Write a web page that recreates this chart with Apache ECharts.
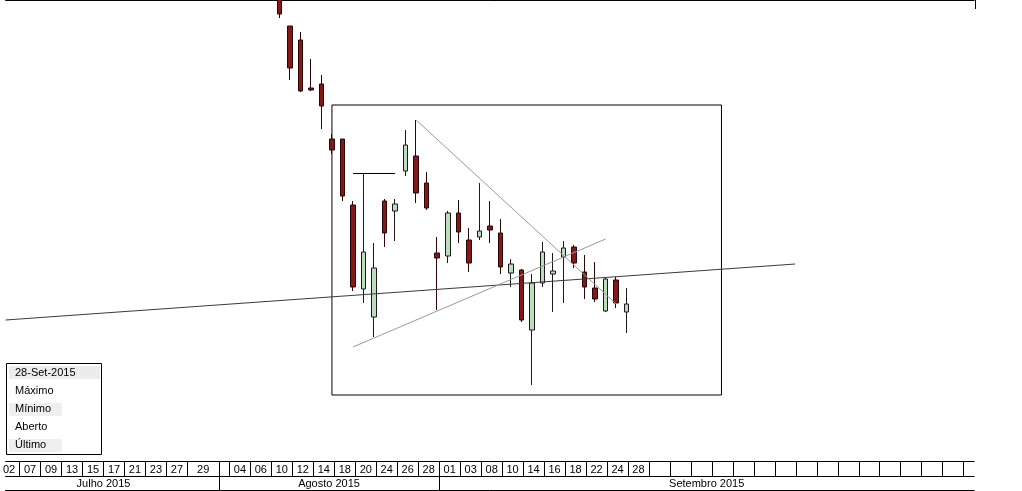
<!DOCTYPE html>
<html>
<head>
<meta charset="utf-8">
<script src="https://cdn.jsdelivr.net/npm/echarts@6/dist/echarts.min.js"></script>
<style>
html,body{margin:0;padding:0;background:#fff;}
#chart{width:1022px;height:491px;}
</style>
</head>
<body>
<div id="chart"></div>
<script>
// ---- axis categories (trading days, incl. empty future days shown on the axis)
const axisDates = [
 '2015-07-01','2015-07-02','2015-07-03','2015-07-07','2015-07-08','2015-07-09','2015-07-10','2015-07-13','2015-07-14','2015-07-15','2015-07-16','2015-07-17','2015-07-20','2015-07-21','2015-07-22','2015-07-23','2015-07-24','2015-07-27','2015-07-28','2015-07-29','2015-07-30','2015-07-31',
 '2015-08-03','2015-08-04','2015-08-05','2015-08-06','2015-08-07','2015-08-10','2015-08-11','2015-08-12','2015-08-13','2015-08-14','2015-08-17','2015-08-18','2015-08-19','2015-08-20','2015-08-21','2015-08-24','2015-08-25','2015-08-26','2015-08-27','2015-08-28','2015-08-31',
 '2015-09-01','2015-09-02','2015-09-03','2015-09-04','2015-09-08','2015-09-09','2015-09-10','2015-09-11','2015-09-14','2015-09-15','2015-09-16','2015-09-17','2015-09-18','2015-09-21','2015-09-22','2015-09-23','2015-09-24','2015-09-25','2015-09-28',
 '2015-09-29','2015-09-30','2015-10-01','2015-10-02','2015-10-05','2015-10-06','2015-10-07','2015-10-08','2015-10-09','2015-10-13','2015-10-14','2015-10-15','2015-10-16','2015-10-19','2015-10-20','2015-10-21','2015-10-22','2015-10-23','2015-10-26','2015-10-27','2015-10-28','2015-10-29','2015-10-30','2015-11-03','2015-11-04','2015-11-05','2015-11-06','2015-11-09','2015-11-10','2015-11-11','2015-11-12','2015-11-13','2015-11-16'
];
// first visible axis position (fraction of a day into the axis) at the left edge
const axisStart = 1.6635;

// ---- candles visible in the picture
const candleDates = ['2015-08-11','2015-08-12','2015-08-13','2015-08-14','2015-08-17','2015-08-18','2015-08-19','2015-08-20','2015-08-21','2015-08-24','2015-08-25','2015-08-26','2015-08-27','2015-08-28','2015-08-31',
 '2015-09-01','2015-09-02','2015-09-03','2015-09-04','2015-09-08','2015-09-09','2015-09-10','2015-09-11','2015-09-14','2015-09-15','2015-09-16','2015-09-17','2015-09-18','2015-09-21','2015-09-22','2015-09-23','2015-09-24','2015-09-25','2015-09-28'];
const openVals  = [14.80,14.35,14.21,13.73,13.77,13.22,13.22,12.56,11.72,11.44,12.60,12.50,12.90,13.05,12.78,12.08,12.05,12.48,12.21,12.24,12.35,12.28,11.88,11.91,11.31,11.78,11.87,12.04,12.14,11.89,11.73,11.50,11.81,11.49];
const closeVals = [14.47,13.93,13.70,13.71,13.55,13.11,12.65,11.74,12.09,11.93,12.28,12.57,13.16,12.68,12.53,12.03,12.48,12.29,11.98,12.30,12.31,11.94,11.97,11.41,11.78,12.09,11.90,12.13,11.98,11.74,11.62,11.82,11.58,11.57];
const highVals  = [14.84,14.35,14.29,14.02,13.86,13.27,13.22,12.60,12.88,12.18,12.62,12.62,13.31,13.41,12.89,12.24,12.50,12.61,12.33,12.78,12.60,12.42,12.02,11.92,11.87,12.19,12.08,12.20,12.16,12.06,11.99,11.84,11.84,11.73];
const lowVals   = [14.43,13.81,13.69,13.70,13.32,13.07,12.60,11.70,11.58,11.24,12.14,12.20,12.85,12.58,12.51,11.51,11.98,12.18,11.89,12.21,12.18,11.87,11.74,11.39,10.76,11.74,11.49,11.58,11.93,11.62,11.59,11.49,11.53,11.28];

// ---- day-cell row of the date table
const dayCellStarts = ['2015-07-02','2015-07-07','2015-07-09','2015-07-13','2015-07-15','2015-07-17','2015-07-21','2015-07-23','2015-07-27','2015-07-29','2015-08-03',
 '2015-08-04','2015-08-06','2015-08-10','2015-08-12','2015-08-14','2015-08-18','2015-08-20','2015-08-24','2015-08-26','2015-08-28',
 '2015-09-01','2015-09-03','2015-09-08','2015-09-10','2015-09-14','2015-09-16','2015-09-18','2015-09-22','2015-09-24','2015-09-28',
 '2015-09-30','2015-10-02','2015-10-06','2015-10-08','2015-10-13','2015-10-15','2015-10-19','2015-10-21','2015-10-23','2015-10-27','2015-10-29','2015-11-03','2015-11-05','2015-11-09','2015-11-11','2015-11-13'];
const dayCellLabels = ['02','07','09','13','15','17','21','23','27','29','',
 '04','06','10','12','14','18','20','24','26','28',
 '01','03','08','10','14','16','18','22','24','28',
 '','','','','','','','','','','','','','','',''];

// ---- month row
const monthStarts = ['2015-07-01','2015-08-03','2015-09-01'];
const monthLabels = ['Julho 2015','Agosto 2015','Setembro 2015'];

// ---- drawn studies (date, price)
const trendFrom  = [['2015-07-03',11.41],['2015-08-20',11.14],['2015-08-28',13.41],['2015-08-20',12.88]];
const trendTo    = [['2015-10-21',11.97],['2015-09-24',12.22],['2015-09-25',11.57],['2015-08-26',12.88]];
const trendColors = ['#3a3a3a','#9a9a9a','#9a9a9a','#000000'];
const boxFrom = ['2015-08-18',13.56];
const boxTo   = ['2015-10-09',10.66];

// ---- info box texts
const infoTexts = ['28-Set-2015','Máximo','Mínimo','Aberto','Último'];

// ================= build =================
const idxOf = d => axisDates.indexOf(d);
const lastIdx = axisDates.length - 1;
const candleData = axisDates.map(d => {
  const i = candleDates.indexOf(d);
  return i < 0 ? '-' : [openVals[i], closeVals[i], lowVals[i], highVals[i]];
});

const dayTickVals = dayCellStarts.map(idxOf);
const dayLabelMap = {};
const dayLabelVals = [];
dayTickVals.forEach((v, k) => {
  const next = k + 1 < dayTickVals.length ? dayTickVals[k + 1] : lastIdx;
  if (dayCellLabels[k]) {
    const c = (v + next) / 2;
    dayLabelVals.push(c);
    dayLabelMap[String(c)] = dayCellLabels[k];
  }
});
const monthTickVals = monthStarts.map(idxOf);
const monthLabelMap = {};
const monthLabelVals = monthTickVals.map((v, k) => {
  const next = k + 1 < monthTickVals.length ? monthTickVals[k + 1] : lastIdx;
  const c = (v + next) / 2;
  monthLabelMap[String(c)] = monthLabels[k];
  return c;
});

const FONT = 'Liberation Sans, Arial, sans-serif';
const tableAxis = (extra) => Object.assign({
  type: 'value', gridIndex: 0, position: 'bottom', min: axisStart, max: lastIdx,
  splitLine: {show: false},
  axisLine: {show: true, onZero: false, lineStyle: {color: '#000', width: 1}},
  axisTick: {show: false},
  axisLabel: {show: false}
}, extra);

const chart = echarts.init(document.getElementById('chart'), null, {renderer: 'canvas'});
const option = {
  animation: false,
  backgroundColor: '#fff',
  grid: {left: 0, right: 47.85, top: 0, bottom: 30, containLabel: false},
  xAxis: [
    {type: 'category', data: axisDates, boundaryGap: false, show: false, gridIndex: 0, min: axisStart, max: lastIdx},
    tableAxis({
      offset: 0,
      axisTick: {show: true, customValues: dayTickVals, length: 15, inside: false, lineStyle: {color: '#000'}},
      axisLabel: {show: true, customValues: dayLabelVals, margin: 3, color: '#000', fontSize: 11, fontFamily: FONT,
        hideOverlap: false, formatter: v => dayLabelMap[String(v)] || ''}
    }),
    tableAxis({
      offset: 15,
      axisTick: {show: true, customValues: monthTickVals, length: 14, lineStyle: {color: '#000'}},
      axisLabel: {show: true, customValues: monthLabelVals, margin: 2, color: '#000', fontSize: 11, fontFamily: FONT,
        formatter: v => monthLabelMap[String(v)] || ''}
    }),
    tableAxis({offset: 29}),
    tableAxis({position: 'top', offset: 0})
  ],
  yAxis: {type: 'value', min: 10.00, max: 14.61, show: false, scale: true},
  series: [{
    type: 'candlestick',
    xAxisIndex: 0,
    data: candleData,
    barWidth: 5,
    itemStyle: {color: '#bcdcbc', color0: '#821818', borderColor: '#1a1a1a', borderColor0: '#2a0606', borderWidth: 1},
    markLine: {
      silent: true, symbol: ['none','none'], animation: false,
      label: {show: false},
      data: trendFrom.map((f, k) => [
        {coord: f, lineStyle: {color: trendColors[k], width: 1, type: 'solid'}},
        {coord: trendTo[k]}
      ])
    },
    markArea: {
      silent: true,
      itemStyle: {color: 'rgba(0,0,0,0)', borderColor: '#000', borderWidth: 1},
      label: {show: false},
      data: [[{coord: boxFrom}, {coord: boxTo}]]
    }
  }],
  graphic: [
    {type: 'line', shape: {x1: 975.5, y1: 0, x2: 975.5, y2: 9}, style: {stroke: '#000', lineWidth: 1}, z: 50},
    {type: 'group', left: 6, top: 363, z: 100, children: [
      {type: 'rect', shape: {x: 0.5, y: 0.5, width: 95, height: 91}, style: {fill: '#fff', stroke: '#000', lineWidth: 1}},
      {type: 'rect', shape: {x: 3, y: 3, width: 91, height: 13}, style: {fill: '#ececec'}},
      {type: 'rect', shape: {x: 3, y: 40, width: 53, height: 13}, style: {fill: '#efefef'}},
      {type: 'rect', shape: {x: 3, y: 76, width: 53, height: 13}, style: {fill: '#efefef'}}
    ].concat(infoTexts.map((t, k) => ({
      type: 'text', x: 9, y: 10 + k * 18,
      style: {text: t, fill: '#000', font: '11px ' + FONT, textVerticalAlign: 'middle', verticalAlign: 'middle'}
    })))}
  ]
};
chart.setOption(option);
</script>
</body>
</html>
